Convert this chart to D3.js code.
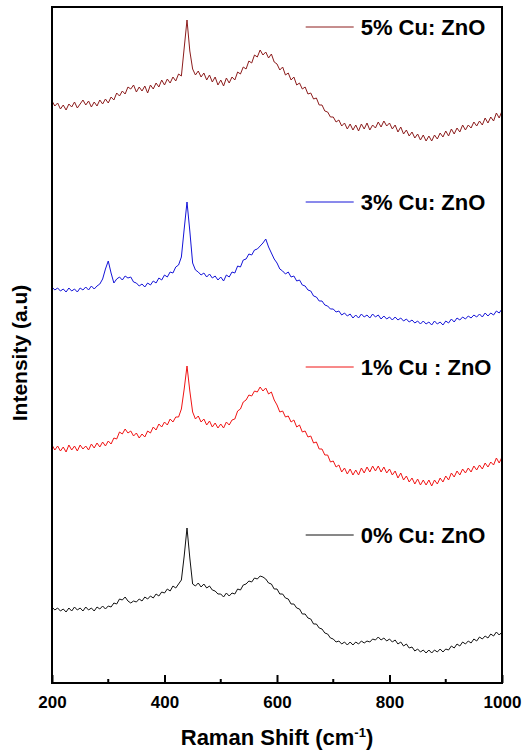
<!DOCTYPE html>
<html>
<head>
<meta charset="utf-8">
<script src="https://cdn.jsdelivr.net/npm/d3@7"></script>
<style>
  body { margin: 0; background: #fff; }
  text { font-family: "Liberation Sans", Arial, sans-serif; font-weight: bold; }
</style>
</head>
<body>
<div class="chart"></div>
<script>
// Raman shift grid, 200 to 1000 cm-1 every 5 cm-1
let shiftStart = 200, shiftStep = 5;

let xTicks = [200, 400, 600, 800, 1000];
let xMinorTicks = [300, 500, 700, 900];

let labels = ['0% Cu: ZnO', '1% Cu : ZnO', '3% Cu: ZnO', '5% Cu: ZnO'];
let colors = ['#111111', '#f01414', '#1414d8', '#8c1c1c'];

// intensities (a.u., stacked with offsets as in the figure), one row per 100 cm-1
let cu0 = [
  76,73,75,72,74,71,75,72,76,73,75,72,76,73,75,72,76,74,77,74,
  77,76,80,79,84,83,86,82,80,82,81,84,82,86,84,87,85,89,87,91,
  90,94,92,97,95,99,103,127,155,125,99,97,100,96,99,95,97,93,92,89,
  89,86,90,87,90,89,94,93,98,99,102,101,105,104,107,106,104,100,99,94,
  94,89,89,85,84,79,79,75,74,69,69,65,64,59,59,55,54,50,49,45,
  44,41,42,39,41,38,41,38,41,39,42,40,42,41,44,43,46,43,45,42,
  44,41,43,39,41,37,39,35,36,32,34,31,33,30,33,30,33,31,34,31,
  34,33,37,35,39,37,41,39,42,40,44,42,46,44,47,45,49,47,51,48,
  51];

let cu1 = [
  238,233,237,232,236,231,238,233,237,232,238,234,237,233,239,235,240,236,241,237,
  242,239,245,244,251,249,254,250,252,247,250,245,249,246,252,250,256,253,259,256,
  261,258,264,261,266,266,274,294,317,292,271,264,267,261,264,258,262,256,260,255,
  259,255,261,258,263,264,272,274,281,283,288,287,292,291,296,292,295,289,291,283,
  278,271,272,266,267,261,263,256,258,251,252,246,247,240,241,234,234,228,228,221,
  222,216,218,211,215,209,214,208,213,208,215,210,216,211,217,212,217,211,216,210,
  214,208,212,205,210,203,207,201,205,199,204,198,203,198,203,197,203,199,205,201,
  207,203,210,206,212,208,214,210,215,211,217,213,218,214,220,216,221,218,225,220,
  226];

let cu3 = [
  396,393,395,392,394,391,395,392,394,391,395,393,396,393,397,394,397,399,404,414,
  422,410,400,404,406,403,407,405,406,401,400,397,399,396,400,398,402,400,405,403,
  408,406,411,410,416,418,426,454,481,452,420,413,411,408,410,406,409,405,407,403,
  406,402,408,406,411,410,417,416,423,424,429,428,433,434,437,440,444,436,430,424,
  420,414,412,409,411,406,407,402,403,398,397,393,392,387,386,382,382,378,377,374,
  374,371,372,368,370,367,369,365,368,365,369,366,368,365,369,366,368,364,367,364,
  366,363,366,363,365,362,364,361,363,360,362,359,362,359,361,358,362,359,361,358,
  362,360,364,361,365,363,366,364,367,365,368,366,369,366,370,367,370,368,372,370,
  374];

let cu5 = [
  582,577,580,574,578,573,579,576,581,575,579,583,578,582,576,581,577,583,579,584,
  580,586,583,590,587,592,589,596,594,598,591,596,592,597,590,598,594,600,596,603,
  598,604,600,606,602,609,607,635,663,632,614,608,612,606,610,603,608,601,606,598,
  603,597,605,600,606,603,611,609,616,614,622,620,628,626,633,628,631,625,629,621,
  619,613,616,608,610,603,606,598,600,594,596,589,590,584,585,578,578,572,571,566,
  566,561,563,557,560,554,559,553,558,552,559,554,560,553,558,555,561,556,562,557,
  560,554,558,551,556,549,553,547,551,545,549,543,548,542,547,542,548,544,550,546,
  552,547,554,549,555,551,558,553,558,555,561,557,562,558,565,560,566,562,570,565,
  572];

let series = [cu0, cu1, cu3, cu5];

// legend anchor (intensity value) for each series
let legendLevel = [148, 316, 481, 656];

let width = 523, height = 754;
let margin = {left: 52, right: 21, top: 7, bottom: 71};

let x = d3.scaleLinear()
          .domain([200, 1000])
          .range([margin.left, width - margin.right]);

let y = d3.scaleLinear()
          .domain([0, 676])
          .range([height - margin.bottom, margin.top]);

let svg = d3.select('.chart')
            .append('svg')
            .attr('width', width)
            .attr('height', height);

let line = d3.line()
             .x((d, i) => x(shiftStart + i * shiftStep))
             .y(d => y(d));

svg.selectAll('path.spectrum')
   .data(series)
   .enter()
   .append('path')
   .attr('class', 'spectrum')
   .attr('fill', 'none')
   .attr('stroke', (d, i) => colors[i])
   .attr('stroke-width', 1)
   .attr('d', line);

// frame
svg.append('rect')
   .attr('x', x(200))
   .attr('y', y(676))
   .attr('width', x(1000) - x(200))
   .attr('height', y(0) - y(676))
   .attr('fill', 'none')
   .attr('stroke', '#000')
   .attr('stroke-width', 2);

// bottom axis, ticks pointing inward
let xAxis = svg.append('g')
               .attr('transform', 'translate(0,' + y(0) + ')')
               .call(d3.axisBottom(x).tickValues(xTicks).tickSize(-8).tickPadding(13).tickFormat(d3.format('d')));

xAxis.select('.domain').remove();
xAxis.selectAll('line').attr('stroke-width', 2);
xAxis.selectAll('text')
     .attr('font-size', 17)
     .attr('font-family', '"Liberation Sans", Arial, sans-serif')
     .attr('font-weight', 'bold')
     .attr('fill', '#000');

svg.append('g')
   .selectAll('line')
   .data(xMinorTicks)
   .enter()
   .append('line')
   .attr('x1', d => x(d))
   .attr('x2', d => x(d))
   .attr('y1', y(0))
   .attr('y2', y(0) - 4)
   .attr('stroke', '#000')
   .attr('stroke-width', 2);

// axis titles
let xTitle = svg.append('text')
                .attr('x', (x(200) + x(1000)) / 2)
                .attr('y', 745)
                .attr('text-anchor', 'middle')
                .attr('font-size', 22)
                .text('Raman Shift (cm');
xTitle.append('tspan').attr('dy', -8).attr('font-size', 13).text('-1');
xTitle.append('tspan').attr('dy', 8).text(')');

svg.append('text')
   .attr('transform', 'translate(27,' + ((y(0) + y(676)) / 2 + 8) + ') rotate(-90)')
   .attr('text-anchor', 'middle')
   .attr('font-size', 21)
   .text('Intensity (a.u)');

// legends
let legend = svg.selectAll('g.legend')
                .data(labels)
                .enter()
                .append('g')
                .attr('class', 'legend')
                .attr('transform', (d, i) => 'translate(' + x(651) + ',' + y(legendLevel[i]) + ')');

legend.append('line')
      .attr('x1', 0)
      .attr('x2', 48)
      .attr('stroke', (d, i) => colors[i])
      .attr('stroke-width', 1);

legend.append('text')
      .attr('x', 55)
      .attr('dy', '0.35em')
      .attr('font-size', 22)
      .text(d => d);
</script>
</body>
</html>
